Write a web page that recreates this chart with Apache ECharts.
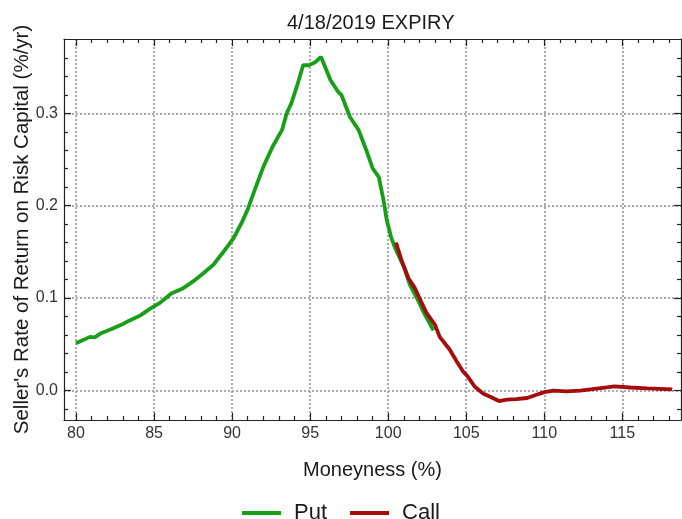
<!DOCTYPE html>
<html>
<head>
<meta charset="utf-8">
<script src="https://cdn.jsdelivr.net/npm/echarts@6/dist/echarts.min.js"></script>
<style>
    html, body {margin: 0; padding: 0; background: #fff;}
    #main {width: 682px; height: 519px;}
</style>
</head>
<body>
<div id="main"></div>
<script>
// data
const put_x = [80.0, 80.9, 81.2, 81.6, 82.2, 82.9, 83.4, 84.1, 84.7, 85.4, 86.1, 86.8, 87.5, 88.1, 88.8, 89.4,
    90.1, 90.6, 91.0, 91.45, 92.0, 92.6, 93.2, 93.5, 93.8, 94.2, 94.55, 94.9, 95.3, 95.7, 96.3, 96.8, 97.0,
    97.55, 98.1, 98.6, 99.0, 99.4, 99.7, 99.9, 100.2, 100.5, 101.0, 101.4, 101.9, 102.35, 102.9]
const put_y = [0.051, 0.058, 0.0575, 0.062, 0.066, 0.071, 0.0755, 0.081, 0.088, 0.095, 0.105, 0.110, 0.118, 0.126,
    0.136, 0.149, 0.165, 0.181, 0.196, 0.217, 0.242, 0.264, 0.282, 0.300, 0.311, 0.332, 0.352, 0.352, 0.355,
    0.361, 0.336, 0.323, 0.320, 0.296, 0.282, 0.260, 0.2405, 0.231, 0.206, 0.185, 0.165, 0.152, 0.134, 0.114,
    0.098, 0.082, 0.065]

const call_x = [100.5, 100.85, 101.3, 101.7, 102.0, 102.45, 103.0, 103.3, 103.95, 104.4, 104.8, 105.1, 105.55,
    106.1, 106.5, 107.1, 107.6, 108.2, 108.9, 109.5, 110.0, 110.6, 111.4, 112.3, 113.1, 114.0, 114.5, 115.5,
    116.6, 118.2]
const call_y = [0.160, 0.141, 0.1215, 0.111, 0.100, 0.084, 0.071, 0.058, 0.044, 0.031, 0.0205, 0.015, 0.004,
    -0.0035, -0.0065, -0.0115, -0.010, -0.0095, -0.0082, -0.0047, -0.0018, -0.0003, -0.001, -0.0003, 0.0015,
    0.0032, 0.0043, 0.0032, 0.0022, 0.0011]

// axis ranges and ticks
const x_range = [79.23, 118.76]
const y_range = [-0.032, 0.3804]
const x_major = [80, 85, 90, 95, 100, 105, 110, 115]
const x_minor = [81, 82, 83, 84, 86, 87, 88, 89, 91, 92, 93, 94, 96, 97, 98, 99, 101, 102, 103, 104,
    106, 107, 108, 109, 111, 112, 113, 114, 116, 117, 118]
const y_major = [0, 0.1, 0.2, 0.3]
const y_minor = [-0.02, 0.02, 0.04, 0.06, 0.08, 0.12, 0.14, 0.16, 0.18, 0.22, 0.24, 0.26, 0.28, 0.32, 0.34, 0.36]

const zip = (xs, ys) => xs.map((x, i) => [x, ys[i]])

const FONT = 'Liberation Sans'
const FRAME = '#222'
const GRID = {color: '#ababab', width: 2, type: [2, 2]}

const make_axis = (dim, position, major, withLine, withLabels, tickLen) => {
    const range = dim === 'x' ? x_range : y_range
    return {
        type: 'value',
        position: position,
        min: range[0],
        max: range[1],
        nameMoveOverlap: false,
        axisLine: {show: withLine, onZero: false, lineStyle: {color: FRAME, width: 1.2}},
        axisTick: {show: true, inside: true, length: tickLen, customValues: major,
                   lineStyle: {color: FRAME, width: 1.2}},
        axisLabel: {show: withLabels, customValues: major, margin: 6, color: '#333',
                    fontFamily: FONT, fontSize: 16,
                    formatter: dim === 'y' ? (v) => v.toFixed(1) : (v) => String(v)},
        splitLine: {show: false},
        silent: true
    }
}

var myChart = echarts.init(document.getElementById('main'));

const x_main = make_axis('x', 'bottom', x_major, true, true, 7)
x_main.splitLine = {show: true, lineStyle: GRID}
x_main.name = 'Moneyness (%)'
x_main.nameLocation = 'middle'
x_main.nameGap = 40
x_main.nameTextStyle = {fontFamily: FONT, fontSize: 20, color: '#1a1a1a'}

const y_main = make_axis('y', 'left', y_major, true, true, 7)
y_main.splitLine = {show: true, lineStyle: GRID}
y_main.name = "Seller's Rate of Return on Risk Capital (%/yr)"
y_main.nameLocation = 'middle'
y_main.nameGap = 31
y_main.nameTextStyle = {fontFamily: FONT, fontSize: 20.5, color: '#1a1a1a'}

var option = {
    animation: false,
    backgroundColor: '#fff',
    title: {
        text: '4/18/2019 EXPIRY',
        left: 287,
        top: 13,
        padding: 0,
        textStyle: {fontFamily: FONT, fontSize: 20, fontWeight: 'normal', color: '#1a1a1a'}
    },
    legend: {
        data: ['Put', 'Call'],
        left: 'center',
        top: 497,
        icon: 'rect',
        itemWidth: 39,
        itemHeight: 4,
        itemGap: 23,
        textStyle: {fontFamily: FONT, fontSize: 22, color: '#1a1a1a', padding: [0, 0, 0, 8]}
    },
    grid: {left: 64, right: 1, top: 39, bottom: 99, containLabel: false, outerBoundsMode: 'none'},
    xAxis: [
        x_main,
        make_axis('x', 'top', x_major, true, false, 7),
        make_axis('x', 'bottom', x_minor, false, false, 4),
        make_axis('x', 'top', x_minor, false, false, 4)
    ],
    yAxis: [
        y_main,
        make_axis('y', 'right', y_major, true, false, 7),
        make_axis('y', 'left', y_minor, false, false, 4),
        make_axis('y', 'right', y_minor, false, false, 4)
    ],
    series: [
        {
            name: 'Put',
            type: 'line',
            data: zip(put_x, put_y),
            showSymbol: false,
            color: '#17a017',
            lineStyle: {width: 3.8, color: '#17a017'}
        },
        {
            name: 'Call',
            type: 'line',
            data: zip(call_x, call_y),
            showSymbol: false,
            color: '#a50c0c',
            lineStyle: {width: 3.8, color: '#a50c0c'}
        }
    ]
};

myChart.setOption(option);
</script>
</body>
</html>
